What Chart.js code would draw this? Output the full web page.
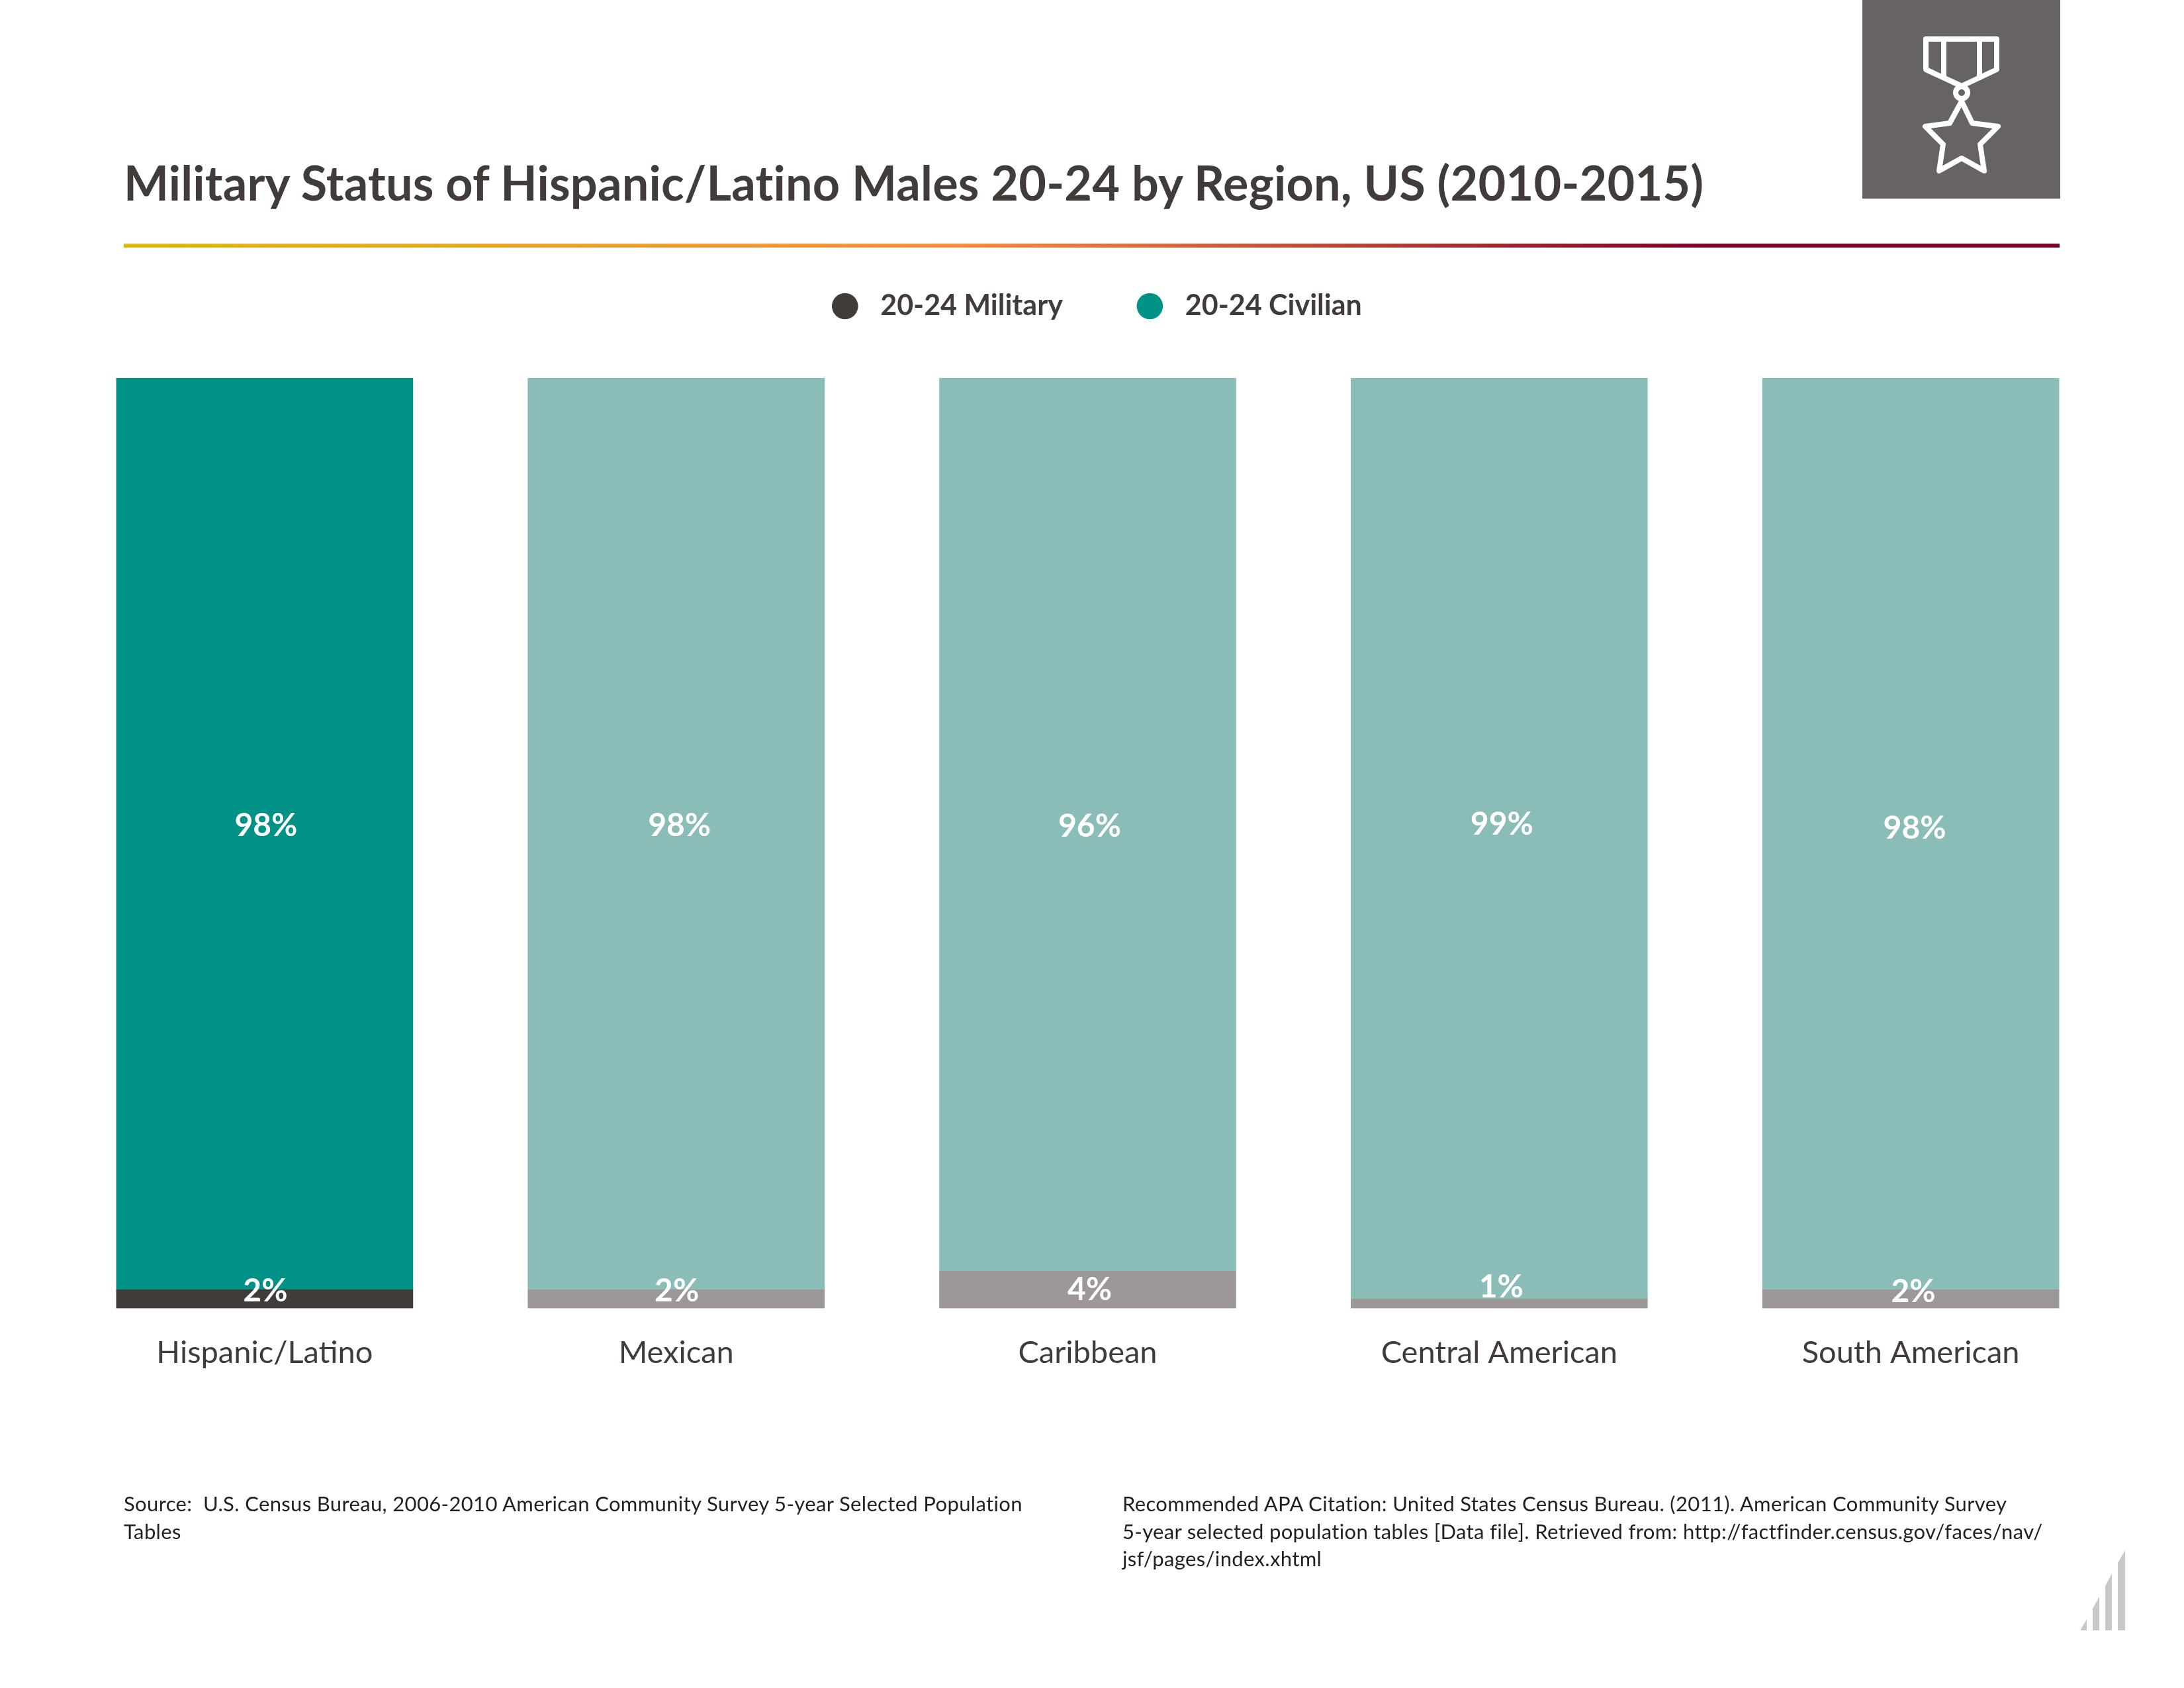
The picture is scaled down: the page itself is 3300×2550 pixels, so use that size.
<!DOCTYPE html>
<html>
<head>
<meta charset="utf-8">
<title>Military Status of Hispanic/Latino Males 20-24 by Region</title>
<script src="https://cdn.jsdelivr.net/npm/chart.js@4"></script>
<style>
  html, body { margin: 0; padding: 0; background: #fff; }
  #page { position: relative; width: 3300px; height: 2550px; overflow: hidden; font-family: Lato, sans-serif; }
  #chart { position: absolute; left: 0; top: 0; }
  #title { position: absolute; left: 187px; top: 230px; font-size: 72px; line-height: 90px; font-weight: 700; letter-spacing: 0.2px; color: #413c39; white-space: nowrap; }
  #rule { position: absolute; left: 187px; top: 368px; width: 2925px; height: 6px;
          background: linear-gradient(to right, #dfb80e 0%, #f68f3e 43%, #7a0026 82%, #7a0026 100%); }
  .note { position: absolute; top: 2251px; font-size: 31px; line-height: 41.5px; letter-spacing: 0.35px; color: #231f20; white-space: nowrap; }
  #icon, #logo { position: absolute; left: 0; top: 0; }
</style>
</head>
<body>
<div id="page">
  <canvas id="chart" width="3300" height="2550"></canvas>
  <div id="title">Military Status of Hispanic/Latino Males 20-24 by Region, US (2010-2015)</div>
  <div id="rule"></div>
  <div class="note" style="left:187px">Source:&nbsp; U.S. Census Bureau, 2006-2010 American Community Survey 5-year Selected Population<br>Tables</div>
  <div class="note" style="left:1696px">Recommended APA Citation: United States Census Bureau. (2011). American Community Survey<br>5-year selected population tables [Data file]. Retrieved from: http://factfinder.census.gov/faces/nav/<br>jsf/pages/index.xhtml</div>
  <svg id="icon" width="3300" height="320" viewBox="0 0 3300 320">
    <rect x="2814" y="0" width="299" height="300" fill="#686363"/>
    <g fill="none" stroke="#fff" stroke-width="8" stroke-linejoin="round" stroke-linecap="round">
      <path d="M2910 59H3017V105L2964 130L2910 105Z"/>
      <path d="M2937 59V117M2991 59V117"/>
      <circle cx="2964" cy="140" r="9"/>
      <path d="M2964 153L2980 186L3019 191L2992 218L2998 258L2964 239L2930 258L2936 218L2909 191L2946 186Z"/>
    </g>
  </svg>
  <svg id="logo" width="3300" height="2550" viewBox="0 0 3300 2550" style="pointer-events:none">
    <path fill="#c9c8c6" d="M3143 2463L3153 2446V2463ZM3162 2463V2430L3172 2412V2463ZM3181 2463V2396L3191 2377V2463ZM3200 2463V2361L3211 2342V2463Z"/>
  </svg>
</div>
<script>
var categories = ['Hispanic/Latino', 'Mexican', 'Caribbean', 'Central American', 'South American'];
var military = [2, 2, 4, 1, 2];
var civilian = [98, 98, 96, 99, 98];

// first bar is the highlighted one, the rest are the faded tints
var militaryColors = ['#413c39', '#9d9897', '#9d9897', '#9d9897', '#9d9897'];
var civilianColors = ['#009286', '#8abdb7', '#8abdb7', '#8abdb7', '#8abdb7'];

var textColor = '#413c39';

// hand nudges of the value labels, the original has them placed loosely
var civilianNudgeX = [2, 5, 3, 4, 6];
var civilianNudgeY = [-12, -12, 3, -21, -8];
var militaryNudgeX = [1, 1, 3, 3, 4];
var militaryNudgeY = [-12, -12, 0, -25, -11];

// value labels on the bars
var valueLabels = {
    id: 'valueLabels',
    afterDatasetsDraw: function (chart) {
        var ctx = chart.ctx;
        ctx.save();
        ctx.fillStyle = '#fff';
        ctx.font = '700 48px Lato';
        ctx.textAlign = 'center';
        ctx.textBaseline = 'middle';
        var nudges = [[militaryNudgeX, militaryNudgeY], [civilianNudgeX, civilianNudgeY]];
        chart.data.datasets.forEach(function (ds, d) {
            chart.getDatasetMeta(d).data.forEach(function (bar, i) {
                var mid = (bar.y + bar.base) / 2;
                ctx.fillText(ds.data[i] + '%', bar.x + nudges[d][0][i], mid + nudges[d][1][i]);
            });
        });
        ctx.restore();
    }
};

// the legend sits off-centre in the original
var moveLegend = {
    id: 'moveLegend',
    afterLayout: function (chart) {
        var legend = chart.legend;
        legend.left += 13;
        legend.right += 13;
        legend.top = 331;
    }
};

var chart = new Chart(document.getElementById('chart'), {
    type: 'bar',
    data: {
        labels: categories,
        datasets: [
            { label: '20-24 Military', data: military, backgroundColor: militaryColors },
            { label: '20-24 Civilian', data: civilian, backgroundColor: civilianColors }
        ]
    },
    plugins: [valueLabels, moveLegend],
    options: {
        responsive: false,
        animation: false,
        devicePixelRatio: 1,
        layout: { padding: { left: 89, right: 102, top: 408, bottom: 373.5 } },
        datasets: { bar: { barThickness: 448 } },
        plugins: {
            tooltip: { enabled: false },
            legend: {
                position: 'top',
                labels: {
                    color: textColor,
                    font: { family: 'Lato', size: 43, weight: '700' },
                    usePointStyle: true,
                    boxHeight: 28,
                    boxWidth: 43,
                    padding: 110,
                    generateLabels: function (chart) {
                        var items = Chart.defaults.plugins.legend.labels.generateLabels(chart);
                        items.forEach(function (item) { item.text = ' ' + item.text; });
                        return items;
                    }
                }
            }
        },
        scales: {
            x: {
                stacked: true,
                grid: { display: false, drawTicks: false },
                border: { display: false },
                afterFit: function (scale) { scale.height = 200; },
                ticks: {
                    color: textColor,
                    padding: 39,
                    maxRotation: 0,
                    font: { family: 'Lato', size: 47 }
                }
            },
            y: { stacked: true, display: false, min: 0, max: 100 }
        }
    }
});
</script>
</body>
</html>
